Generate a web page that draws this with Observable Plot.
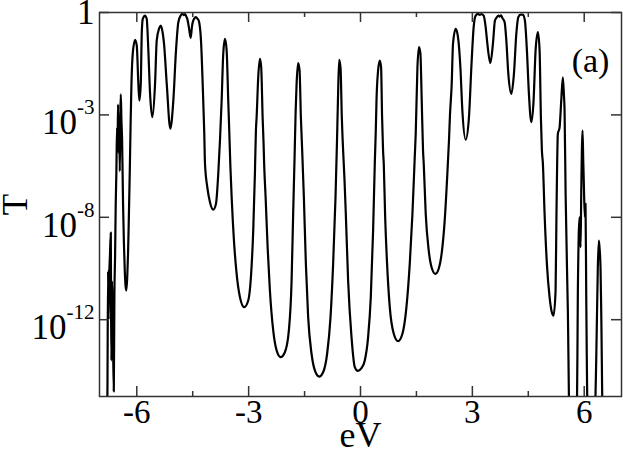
<!DOCTYPE html>
<html>
<head>
<meta charset="utf-8">
<script src="https://cdn.jsdelivr.net/npm/d3@7"></script>
<script src="https://cdn.jsdelivr.net/npm/@observablehq/plot@0.6"></script>
<style>
  html, body { margin: 0; padding: 0; background: #fff; overflow: hidden; }
  #chart { width: 623px; height: 455px; }
  #chart svg, #chart svg text { font-family: "Liberation Serif", "Times New Roman", Times, "DejaVu Serif", serif !important; }
</style>
</head>
<body>
<div id="chart"></div>
<script>
// Energy (eV) and log10 of transmission T
const eV = [
  -7.00, -6.80, -6.788, -6.770, -6.757, -6.743, -6.720, -6.697, -6.690, -6.681,
  -6.665, -6.654, -6.640, -6.617, -6.600, -6.582, -6.565, -6.547, -6.530, -6.515,
  -6.502, -6.485, -6.470, -6.456, -6.440, -6.429, -6.410, -6.395, -6.368, -6.345,
  -6.322, -6.300, -6.279, -6.255, -6.234, -6.210, -6.188, -6.165, -6.145, -6.108,
  -6.046, -6.001, -5.958, -5.931, -5.893, -5.867, -5.840, -5.800, -5.778, -5.755,
  -5.733, -5.690, -5.644, -5.583, -5.510, -5.465, -5.400, -5.358, -5.310, -5.269,
  -5.197, -5.100, -5.020, -4.948, -4.886, -4.822, -4.780, -4.740, -4.706, -4.675,
  -4.645, -4.600, -4.554, -4.520, -4.484, -4.412, -4.370, -4.340, -4.278, -4.233,
  -4.190, -4.171, -4.109, -4.037, -3.949, -3.876, -3.815, -3.769, -3.724, -3.681,
  -3.635, -3.590, -3.547, -3.520, -3.490, -3.456, -3.394, -3.322, -3.233, -3.118,
  -3.011, -2.939, -2.877, -2.832, -2.805, -2.786, -2.743, -2.698, -2.663, -2.625,
  -2.600, -2.582, -2.545, -2.491, -2.430, -2.341, -2.250, -2.143, -2.028, -1.921,
  -1.848, -1.806, -1.768, -1.740, -1.714, -1.672, -1.634, -1.599, -1.564, -1.519,
  -1.465, -1.404, -1.313, -1.224, -1.109, -1.002, -0.895, -0.804, -0.734, -0.670,
  -0.630, -0.605, -0.573, -0.536, -0.501, -0.466, -0.430, -0.394, -0.332, -0.241,
  -0.153, -0.070, 0.020, 0.115, 0.204, 0.276, 0.338, 0.383, 0.410, 0.429,
  0.471, 0.517, 0.552, 0.579, 0.605, 0.624, 0.659, 0.713, 0.785, 0.892,
  1.007, 1.125, 1.232, 1.321, 1.393, 1.455, 1.481, 1.527, 1.570, 1.607,
  1.642, 1.677, 1.696, 1.749, 1.830, 1.918, 2.009, 2.097, 2.186, 2.258,
  2.320, 2.373, 2.400, 2.446, 2.481, 2.553, 2.615, 2.679, 2.732, 2.821,
  2.909, 2.973, 3.035, 3.089, 3.150, 3.200, 3.241, 3.303, 3.357, 3.402,
  3.482, 3.552, 3.606, 3.659, 3.700, 3.732, 3.770, 3.804, 3.866, 3.911,
  3.965, 4.045, 4.115, 4.179, 4.233, 4.294, 4.356, 4.409, 4.463, 4.517,
  4.581, 4.642, 4.696, 4.758, 4.803, 4.838, 4.865, 4.892, 4.937, 4.999,
  5.071, 5.130, 5.178, 5.232, 5.255, 5.293, 5.339, 5.384, 5.427, 5.454,
  5.473, 5.501, 5.561, 5.607, 5.802, 5.829, 5.875, 5.902, 5.920, 5.955,
  5.974, 5.990, 6.017, 6.035, 6.054, 6.097, 6.276, 6.322, 6.365, 6.392,
  6.410, 6.437, 6.456, 6.499, 7.00
];
const logT = [
  -16, -16, -14.9, -10.1, -12.0, -10.5, -9.5, -8.6, -11.5, -13.6,
  -10.5, -11.3, -12.5, -14.8, -11.0, -9.5, -7.5, -6.2, -4.5, -5.0,
  -3.6, -5.5, -4.2, -6.2, -4.0, -3.2, -4.3, -4.9, -7.5, -9.0,
  -10.1, -10.7, -10.86, -10.3, -9.4, -7.8, -6.2, -4.3, -2.9, -1.6,
  -1.07, -1.29, -2.78, -3.44, -2.78, -0.83, -0.25, -0.14, -0.12, -0.17,
  -0.25, -1.48, -3.17, -4.09, -2.78, -1.09, -0.62, -0.51, -0.75, -1.22,
  -2.78, -4.54, -3.44, -1.48, -0.38, -0.12, -0.05, -0.10, -0.06, -0.15,
  -0.25, -0.6, -0.99, -0.55, -0.31, -0.18, -0.25, -0.31, -1.09, -2.78,
  -4.73, -5.90, -6.82, -7.41, -7.70, -7.47, -6.30, -5.0, -3.44, -1.61,
  -1.03, -1.48, -3.44, -4.61, -6.0, -7.21, -8.91, -10.21, -11.12, -11.51,
  -11.25, -10.34, -8.52, -6.30, -4.61, -4.09, -2.53, -1.81, -2.14, -4.09,
  -5.1, -6.0, -7.21, -9.17, -10.86, -12.42, -13.20, -13.46, -13.27, -12.42,
  -10.47, -7.86, -5.65, -3.9, -2.79, -1.98, -2.27, -4.09, -5.39, -7.21,
  -9.82, -11.90, -13.33, -13.98, -14.22, -14.05, -13.33, -11.90, -9.82, -7.21,
  -5.0, -3.44, -1.85, -2.14, -4.09, -5.39, -6.5, -7.86, -10.47, -12.68,
  -13.85, -14.0, -13.9, -13.59, -12.68, -11.12, -8.52, -5.91, -4.61, -3.44,
  -2.27, -1.875, -2.14, -4.09, -5.39, -5.91, -7.86, -9.82, -11.51, -12.55,
  -12.84, -12.55, -11.51, -9.82, -7.86, -5.65, -4.74, -2.14, -1.35, -1.61,
  -3.44, -5.39, -5.91, -7.86, -9.30, -10.01, -10.21, -10.01, -9.30, -8.13,
  -6.56, -5.0, -4.0, -2.79, -1.22, -0.64, -0.96, -2.14, -3.83, -4.97,
  -4.09, -2.14, -0.57, -0.12, -0.05, -0.09, -0.06, -0.12, -0.57, -1.22,
  -1.98, -1.22, -0.31, -0.18, -0.12, -0.16, -0.11, -0.21, -0.38, -1.09,
  -2.40, -3.18, -2.40, -0.83, -0.18, -0.08, -0.08, -0.31, -1.48, -3.18,
  -4.28, -3.44, -1.48, -0.77, -1.48, -4.09, -5.39, -5.91, -7.86, -9.82,
  -11.12, -11.7, -11.84, -10.86, -8.0, -4.74, -4.5, -3.44, -2.53, -3.18,
  -3.83, -7.08, -11.64, -16, -16, -10.98, -8.00, -9.17, -7.08, -4.61,
  -5.78, -6.69, -8.00, -7.47, -10.99, -16, -16, -13.59, -9.95, -8.91,
  -9.17, -9.95, -11.64, -16, -16
];

const xMajor = [-6, -3, 0, 3, 6];
const xMinor = [-4.5, -1.5, 1.5, 4.5];
const xTickLabels = ["-6", "-3", "0", "3", "6"];
const yTicks = [1, 1e-4, 1e-8, 1e-12];
const yTickLabels = ["1", "10^-3", "10^-8", "10^-12"];
const xTitle = ["eV"];
const yTitle = ["T"];
const panelLabel = ["(a)"];

const data = eV.map((e, i) => ({eV: e, T: Math.pow(10, logT[i])}));

const W = 623, H = 455;
const mL = 99, mR = 2, mT = 12, mB = 59;
const innerW = W - mL - mR, innerH = H - mT - mB;
const tickColor = "#333";
const serif = "Liberation Serif, Times New Roman, Times, DejaVu Serif, serif";

const chart = Plot.plot({
  width: W, height: H,
  marginLeft: mL, marginRight: mR, marginTop: mT, marginBottom: mB,
  style: {fontFamily: serif, fontSize: "33px", color: "black", background: "white"},
  x: {domain: [-7, 7]},
  y: {type: "log", domain: [1e-15, 1]},
  marks: [
    Plot.line(data, {x: "eV", y: "T", stroke: "black", strokeWidth: 2.2, curve: "monotone-x", clip: true}),
    Plot.frame({stroke: tickColor, strokeWidth: 1.5}),
    // inward major / minor ticks on all four sides
    Plot.ruleX(xMajor, {stroke: tickColor, strokeWidth: 1.5, insetTop: innerH - 10}),
    Plot.ruleX(xMajor, {stroke: tickColor, strokeWidth: 1.5, insetBottom: innerH - 10}),
    Plot.ruleX(xMinor, {stroke: tickColor, strokeWidth: 1.5, insetTop: innerH - 5}),
    Plot.ruleX(xMinor, {stroke: tickColor, strokeWidth: 1.5, insetBottom: innerH - 5}),
    Plot.ruleY(yTicks, {stroke: tickColor, strokeWidth: 1.5, insetRight: innerW - 10}),
    Plot.ruleY(yTicks, {stroke: tickColor, strokeWidth: 1.5, insetLeft: innerW - 10}),
    Plot.axisX(xMajor, {tickSize: 0, tickPadding: 3, label: null, fontSize: 33, fontFamily: serif,
      tickFormat: d => xTickLabels[xMajor.indexOf(d)]}),
    Plot.axisY(yTicks, {tickSize: 0, tickPadding: 5, label: null, fontSize: 35, fontFamily: serif,
      tickFormat: d => yTickLabels[yTicks.indexOf(d)]}),
    Plot.text(xTitle, {text: d => d, frameAnchor: "bottom", textAnchor: "middle", lineAnchor: "middle",
      dy: 39, fontSize: 36, fontFamily: serif}),
    Plot.text(yTitle, {text: d => d, frameAnchor: "left", textAnchor: "middle", lineAnchor: "middle",
      dx: -84, rotate: -90, fontSize: 35, fontFamily: serif}),
    Plot.text(panelLabel, {text: d => d, frameAnchor: "top-right", textAnchor: "middle", lineAnchor: "middle",
      dx: -31, dy: 49, fontSize: 34, fontFamily: serif})
  ]
});

// superscripts for the y tick labels
const svgNS = "http://www.w3.org/2000/svg";
chart.querySelectorAll('[aria-label="y-axis tick label"] text').forEach(t => {
  const s = t.textContent;
  if (s.includes("^")) {
    const [base, exp] = s.split("^");
    t.textContent = base;
    const sup = document.createElementNS(svgNS, "tspan");
    sup.textContent = exp;
    sup.setAttribute("font-size", "21");
    sup.setAttribute("dy", "-20");
    t.appendChild(sup);
    const tr = t.getAttribute("transform") || "";
    t.setAttribute("transform", tr + " translate(0,8)");
  }
});

document.getElementById("chart").appendChild(chart);
</script>
</body>
</html>
